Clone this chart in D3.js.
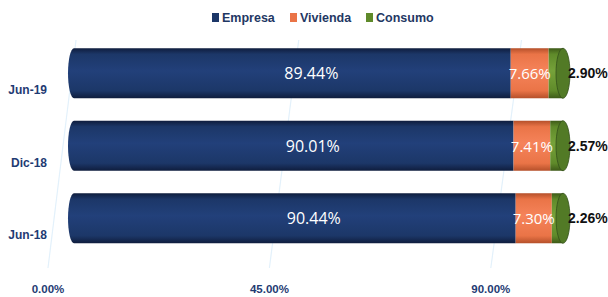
<!DOCTYPE html>
<meta charset="utf-8">
<script src="https://d3js.org/d3.v7.min.js"></script>
<style>
body { margin: 0; background: #fff; }
text { font-family: "Liberation Sans", Arial, sans-serif; }
.cat { font-size: 12px; font-weight: bold; fill: #1f3b73; }
.tick { font-size: 11.5px; font-weight: bold; fill: #1f3b73; }
.legend text { font-size: 12.5px; font-weight: bold; fill: #1f3864; }
.inlbl { font-family: "Open Sans", sans-serif; fill: #fff; }
.outlbl { font-size: 14px; font-weight: bold; fill: #111; }
</style>
<body>
<div id="chart"></div>
<script>
const categories = ["Jun-19", "Dic-18", "Jun-18"];
const empresa = [89.44, 90.01, 90.44];
const vivienda = [7.66, 7.41, 7.30];
const consumo = [2.90, 2.57, 2.26];
const seriesNames = ["Empresa", "Vivienda", "Consumo"];
const tickValues = [0, 45, 90];

const colors = {
  Empresa: ["#0f1d3d", "#22407a", "#1c3768"],
  Vivienda: ["#b5502a", "#f5835a", "#ea7447"],
  Consumo: ["#3e5a18", "#76a23a", "#5f8a2a"]
};

const width = 608, height = 297;
const svg = d3.select("#chart").append("svg")
  .attr("width", width).attr("height", height);

// bar scale and perspective axis scale
const x = d3.scaleLinear().domain([0, 100]).range([68, 563]);
const xAxis = d3.scaleLinear().domain([0, 100]).range([48, 540]);
const y = d3.scaleBand().domain(categories).range([37, 254.5])
  .paddingInner(0.31).paddingOuter(0.155);

const defs = svg.append("defs");
seriesNames.forEach(s => {
  const g = defs.append("linearGradient").attr("id", "g" + s)
    .attr("x1", 0).attr("x2", 0).attr("y1", 0).attr("y2", 1);
  const c = colors[s];
  g.append("stop").attr("offset", 0).attr("stop-color", c[0]);
  g.append("stop").attr("offset", 0.12).attr("stop-color", c[2]);
  g.append("stop").attr("offset", 0.45).attr("stop-color", c[1]);
  g.append("stop").attr("offset", 0.85).attr("stop-color", c[2]);
  g.append("stop").attr("offset", 1).attr("stop-color", c[0]);
});

// faint perspective grid lines
svg.selectAll(".grid").data(tickValues).enter().append("line")
  .attr("x1", d => xAxis(d)).attr("y1", 268)
  .attr("x2", d => x(d) + 8).attr("y2", 40)
  .attr("stroke", "#e3f1fb").attr("stroke-width", 1.2);

const data = categories.map((c, i) => ({
  cat: c, empresa: empresa[i], vivienda: vivienda[i], consumo: consumo[i]
}));

const rows = svg.selectAll(".row").data(data).enter().append("g")
  .attr("transform", d => `translate(0,${y(d.cat)})`);
const bh = y.bandwidth();

// Empresa segment with rounded left end
rows.append("path")
  .attr("d", d => {
    const x0 = x(0), x1 = x(d.empresa), r = 6;
    return `M${x1},0 L${x0 + r},0 A${r},${bh / 2} 0 0 0 ${x0 + r},${bh} L${x1},${bh} Z`;
  })
  .attr("fill", "url(#gEmpresa)");

rows.append("rect")
  .attr("x", d => x(d.empresa))
  .attr("width", d => x(d.empresa + d.vivienda) - x(d.empresa))
  .attr("height", bh)
  .attr("fill", "url(#gVivienda)");

rows.append("rect")
  .attr("x", d => x(d.empresa + d.vivienda))
  .attr("width", d => x(100) - x(d.empresa + d.vivienda))
  .attr("height", bh)
  .attr("fill", "url(#gConsumo)");

// right end cap of cylinder
rows.append("ellipse")
  .attr("cx", x(100)).attr("cy", bh / 2)
  .attr("rx", 7).attr("ry", bh / 2)
  .attr("fill", "#527a26").attr("stroke", "#34501a").attr("stroke-width", 0.8);

// value labels
rows.append("text").attr("class", "inlbl")
  .attr("x", d => x(d.empresa / 2) + 22).attr("y", bh / 2 + 6)
  .attr("text-anchor", "middle").style("font-size", "16px")
  .text(d => d.empresa.toFixed(2) + "%");

rows.append("text").attr("class", "inlbl")
  .attr("x", d => x(d.empresa + d.vivienda / 2)).attr("y", bh / 2 + 6)
  .attr("text-anchor", "middle").style("font-size", "15px")
  .text(d => d.vivienda.toFixed(2) + "%");

rows.append("text").attr("class", "outlbl")
  .attr("x", x(100) + 5).attr("y", bh / 2 + 5)
  .text(d => d.consumo.toFixed(2) + "%");

// category labels (sit a bit low, perspective)
rows.append("text").attr("class", "cat")
  .attr("x", 47).attr("y", bh / 2 + 21)
  .attr("text-anchor", "end")
  .text(d => d.cat);

// axis tick labels
svg.selectAll(".tick").data(tickValues).enter().append("text")
  .attr("class", "tick")
  .attr("x", d => xAxis(d)).attr("y", 293)
  .attr("text-anchor", "middle")
  .text(d => d.toFixed(2) + "%");

// legend
const legendX = [212, 290, 366];
const legend = svg.append("g").attr("class", "legend");
const li = legend.selectAll("g").data(seriesNames).enter().append("g")
  .attr("transform", (d, i) => `translate(${legendX[i]},0)`);
li.append("rect").attr("y", 13).attr("width", 7).attr("height", 9)
  .attr("fill", d => colors[d][2]);
li.append("text").attr("x", 10).attr("y", 22).text(d => d);
</script>
</body>
